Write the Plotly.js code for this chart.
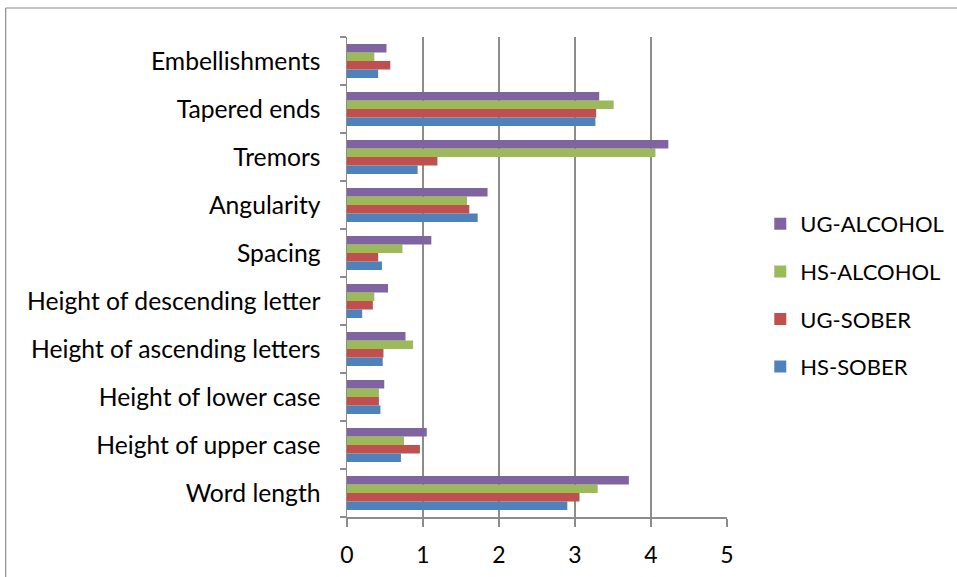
<!DOCTYPE html>
<html><head><meta charset="utf-8">
<script src="https://cdn.plot.ly/plotly-3.0.1.min.js"></script>
<style>html,body{margin:0;padding:0;background:#fff}</style>
</head><body><div id="chart" style="width:957px;height:577px"></div>
<script>
// categories listed bottom-to-top
const categories = ["Word length", "Height of upper case", "Height of lower case",
  "Height of ascending letters", "Height of descending letter", "Spacing",
  "Angularity", "Tremors", "Tapered ends", "Embellishments"];
const seriesNames = ["HS-SOBER", "UG-SOBER", "HS-ALCOHOL", "UG-ALCOHOL"];
const hsSober    = [2.90, 0.71, 0.44, 0.47, 0.20, 0.46, 1.72, 0.93, 3.27, 0.41];
const ugSober    = [3.06, 0.96, 0.42, 0.48, 0.34, 0.41, 1.61, 1.19, 3.28, 0.57];
const hsAlcohol  = [3.30, 0.75, 0.42, 0.87, 0.36, 0.73, 1.58, 4.06, 3.51, 0.36];
const ugAlcohol  = [3.71, 1.05, 0.49, 0.77, 0.54, 1.11, 1.85, 4.23, 3.32, 0.52];
const xTicks = [0, 1, 2, 3, 4, 5];

const colors = ["#4F81BD", "#C0504D", "#9BBB59", "#8064A2"];
const values = [hsSober, ugSober, hsAlcohol, ugAlcohol];
const font = "Lato, 'Open Sans', sans-serif";

const traces = values.map((v, i) => ({
  type: "bar", orientation: "h", name: seriesNames[i],
  x: v, y: categories, legendgroup: "g" + i, legendrank: 1000 - i,
  marker: {color: colors[i], line: {width: 0}},
  hoverinfo: "x+name"
}));

const L = 346.5, R = 726.7, T = 37, B = 517;
const pw = R - L, ph = B - T;
const px = x => (x - L) / pw;
const py = y => (B - y) / ph;

const layout = {
  width: 957, height: 577,
  margin: {l: L, r: 957 - R, t: T, b: 577 - B, pad: 0, autoexpand: false},
  paper_bgcolor: "#fff", plot_bgcolor: "#fff",
  font: {family: font, size: 23, color: "#000"},
  barmode: "group", bargap: 0.29, bargroupgap: 0,
  showlegend: true,
  legend: {
    x: px(760), xanchor: "left", y: py(203), yanchor: "top",
    traceorder: "grouped", tracegroupgap: 16,
    font: {family: font, size: 22, color: "#000"},
    bgcolor: "rgba(0,0,0,0)", borderwidth: 0
  },
  xaxis: {
    range: [0, 5.002], tickvals: xTicks, ticktext: xTicks.map(String),
    showgrid: true, gridcolor: "#8c8c8c", gridwidth: 1.5,
    showline: true, linecolor: "#8c8c8c", linewidth: 1.5,
    ticks: "outside", ticklen: 8, tickcolor: "#8c8c8c", tickwidth: 1.5,
    ticklabelstandoff: 9, zeroline: false,
    tickfont: {family: font, size: 23, color: "#000"}
  },
  yaxis: {
    type: "category", categoryorder: "array", categoryarray: categories,
    showgrid: false, showline: true, linecolor: "#8c8c8c", linewidth: 1.5,
    ticks: "outside", tickson: "boundaries", ticklen: 6, tickcolor: "#8c8c8c", tickwidth: 1.5,
    ticklabelstandoff: 20,
    tickfont: {family: font, size: 24.7, color: "#000"}
  },
  shapes: [
    {type: "line", xref: "paper", yref: "paper", x0: px(5), x1: px(5), y0: py(8), y1: py(600),
     line: {color: "#8c8c8c", width: 1.2}},
    {type: "line", xref: "paper", yref: "paper", x0: px(5), x1: px(960), y0: py(8), y1: py(8),
     line: {color: "#8c8c8c", width: 1.2}}
  ]
};

Plotly.newPlot("chart", traces, layout, {displayModeBar: false, staticPlot: true});
</script></body></html>
